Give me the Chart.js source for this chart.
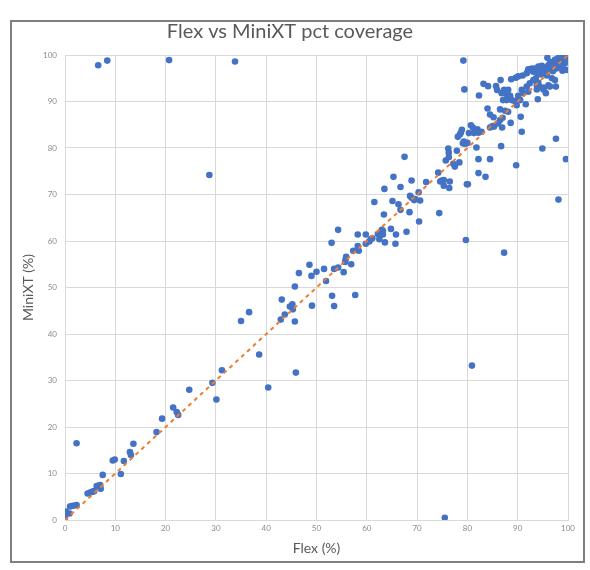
<!DOCTYPE html>
<html>
<head>
<meta charset="utf-8">
<script src="https://cdn.jsdelivr.net/npm/chart.js@4.4.1/dist/chart.umd.min.js"></script>
<style>
    body { margin: 0; background: #fff; }
    #frame {
        position: absolute;
        left: 10px;
        top: 20px;
        width: 571px;
        height: 539px;
        border: 2px solid #7f7f7f;
        background: #fff;
    }
</style>
</head>
<body>
<div id="frame"><canvas id="chart" width="571" height="539"></canvas></div>
<script>
// Flex coverage (x) and MiniXT coverage (y), paired by index
const flex = [
    0, 0, 0.1, 0.2, 0.9, 1.0, 1.3, 1.8, 2.3, 2.3,
    4.5, 5.0, 5.5, 5.8, 6.3, 6.7, 7.0, 7.1, 7.5,
    9.5, 9.9, 11.1, 11.7, 12.9, 13.1, 13.6,
    18.2, 19.3, 21.5, 22.2, 22.5, 24.7,
    29.3, 30.1, 31.2, 35.0, 36.6, 38.6, 40.4,
    42.9, 43.1, 43.7, 44.7, 45.2, 45.3, 45.7, 45.7, 45.9, 46.5, 48.6, 49.0, 49.1, 50.0,
    51.5, 51.9, 53.1, 53.5, 53.0, 54.3, 53.5, 54.3, 55.4, 55.7, 55.8, 55.9, 56.9, 57.3, 57.7,
    58.2, 58.2, 58.4, 59.8, 59.8, 60.5, 60.8, 61.1, 61.5, 62.2, 62.5, 63.0, 63.0, 63.2, 63.2,
    63.4, 63.5, 63.6, 64.8, 65.1, 65.3, 65.7, 65.8, 66.3, 66.7, 66.7, 67.5, 67.9, 68.5, 68.6,
    68.9, 69.4, 69.6, 68.9, 70.3, 70.4, 70.6, 71.8,
    74.2, 74.4, 74.6, 74.9, 75.3, 75.3, 75.5, 75.7, 76.2, 76.3, 76.3, 76.4, 76.5, 77.2, 77.5,
    77.9, 78.4, 78.1, 78.5, 78.7, 78.9, 79.1, 79.3, 79.6, 80.0, 79.9, 80.1, 79.7, 80.9, 79.2,
    79.4, 80.3, 80.7, 81.1, 81.3, 81.7, 82.0, 82.2, 82.8, 81.8, 82.2, 82.2, 83.6, 82.3, 83.2,
    84.1, 84.5, 84.0, 84.5, 85.2, 84.5, 85.0, 85.3, 85.7, 85.9, 86.1, 86.5, 87.0, 86.5, 87.5,
    88.1, 86.7, 86.9, 86.6, 86.8, 87.3, 87.7, 88.1, 88.5, 87.8, 87.1, 88.8, 88.7, 88.6, 89.7,
    87.3, 89.4, 89.8, 89.6, 90.1, 91.0, 91.8, 90.1, 90.8, 91.1, 91.8, 92.4, 92.1, 90.6, 90.8,
    90.5, 91.6,
    92.1, 92.8, 93.1, 93.1, 93.6, 94.1, 93.8, 94.3, 95.1, 95.6, 96.1, 96.8, 97.4, 94.9, 97.6,
    99.6, 98.1, 98.9, 99.7, 99.4, 98.7,
    92.3, 93.4, 94.1, 94.4, 94.8, 95.2, 95.6, 96.1, 96.4, 96.8, 97.1, 97.4, 97.9, 98.4, 99.2,
    100, 99.4, 98.4, 97.7, 99.7, 95.9, 97.6, 96.4, 95.2, 93.8, 94.0,
    95.5, 96.5, 97.0, 97.3, 98.0, 98.6, 99.0, 99.5, 98.2, 97.5, 96.9, 95.8, 94.6, 93.9, 99.8,
    99.9, 98.8,
    6.6, 8.4, 20.7, 33.8, 28.7
];
const miniXT = [
    0.5, 1.0, 1.4, 1.8, 1.4, 2.9, 3.0, 3.1, 3.2, 16.5,
    5.7, 5.9, 6.1, 6.2, 7.3, 7.4, 7.5, 6.7, 9.7,
    12.8, 13.0, 9.9, 12.7, 14.6, 14.0, 16.4,
    18.9, 21.8, 24.2, 23.2, 22.6, 28.0,
    29.5, 25.9, 32.2, 42.8, 44.7, 35.6, 28.5,
    43.1, 47.4, 44.2, 45.9, 46.4, 45.3, 42.7, 50.2, 31.7, 53.1, 54.9, 52.5, 46.1, 53.4,
    54.0, 51.4, 48.2, 46.0, 59.6, 62.4, 54.0, 54.3, 53.3, 55.5, 56.1, 56.6, 55.0, 57.9, 48.4,
    61.4, 58.9, 57.9, 61.4, 59.4, 59.9, 60.4, 60.6, 68.4, 61.5, 60.4, 62.4, 61.6, 61.4, 62.2,
    65.7, 71.2, 59.7, 62.6, 68.6, 73.8, 59.4, 61.4, 67.9, 71.6, 66.7, 78.1, 62.0, 66.2, 69.7,
    69.3, 68.8, 69.0, 73.0, 70.5, 64.2, 68.7, 72.7,
    74.7, 66.0, 72.8, 73.0, 73.1, 71.9, 0.5, 77.3, 79.9, 78.0, 79.0, 71.4, 72.8, 76.6, 76.0,
    79.4, 76.9, 82.4, 82.9, 83.3, 83.9, 81.0, 81.4, 80.9, 81.1, 72.2, 72.2, 60.2, 33.2, 98.8,
    92.6, 83.2, 84.9, 84.4, 83.2, 83.7, 84.0, 83.3, 83.5, 80.1, 77.6, 74.6, 73.8, 91.3, 93.8,
    93.3, 77.6, 88.5, 87.2, 86.6, 84.4, 84.7, 84.6, 93.3, 92.5, 85.3, 86.0, 86.5, 88.3, 88.0,
    87.8, 80.4, 84.4, 94.6, 91.8, 92.5, 91.6, 92.5, 91.2, 90.3, 90.3, 90.3, 94.8, 85.4, 76.3,
    57.5, 90.1, 89.2, 95.1, 95.4, 95.6, 96.1, 91.2, 92.5, 91.8, 93.2, 93.9, 92.1, 86.7, 83.5,
    90.3, 89.4,
    96.9, 97.1, 96.4, 94.6, 95.0, 94.0, 92.6, 93.2, 92.6, 91.8, 93.5, 95.0, 94.6, 79.9, 82.0,
    77.6, 68.9, 96.6, 99.6, 100, 99.6,
    96.8, 97.1, 97.5, 96.8, 97.7, 97.3, 97.0, 97.8, 98.2, 98.5, 98.0, 98.9, 99.1, 98.7, 99.4,
    99.8, 98.2, 97.5, 97.1, 96.8, 99.4, 93.2, 93.2, 93.0, 93.5, 90.5,
    96.2, 96.8, 96.5, 97.6, 98.2, 98.0, 98.9, 99.2, 99.5, 99.0, 97.4, 95.6, 95.8, 96.2, 99.9,
    98.6, 97.2,
    97.8, 98.8, 98.9, 98.6, 74.2
];
const trendX = [0, 100];
const trendY = [0, 100];
const axisTicks = [0, 10, 20, 30, 40, 50, 60, 70, 80, 90, 100];

const points = flex.map((x, i) => ({x: x, y: miniXT[i]}));
const trend = trendX.map((x, i) => ({x: x, y: trendY[i]}));

const gridColor = '#d9d9d9';
const tickFont = {family: 'Lato', size: 8};
const titleFont = {family: 'Lato', size: 14};

const ctx = document.getElementById('chart');

new Chart(ctx, {
    type: 'scatter',
    data: {
        datasets: [{
            label: 'Trend',
            data: trend,
            type: 'line',
            showLine: true,
            borderColor: '#ed7d31',
            borderWidth: 2,
            borderDash: [4, 4],
            pointRadius: 0,
            fill: false,
            order: 0
        }, {
            label: 'Coverage',
            data: points,
            backgroundColor: '#4472c4',
            borderWidth: 0,
            pointRadius: 3.3,
            order: 1
        }]
    },
    options: {
        responsive: false,
        animation: false,
        layout: {
            padding: {left: 0, right: 15, top: 0, bottom: 0}
        },
        plugins: {
            legend: {display: false},
            tooltip: {enabled: false},
            title: {
                display: true,
                text: 'Flex vs MiniXT pct coverage',
                color: '#595959',
                font: {family: 'Lato', size: 20, weight: 'normal', lineHeight: 1.0},
                padding: {top: 0, bottom: 13}
            }
        },
        scales: {
            x: {
                type: 'linear',
                min: 0,
                max: 100,
                afterFit: (scale) => { scale.height = 41; },
                afterBuildTicks: (scale) => { scale.ticks = axisTicks.map(v => ({value: v})); },
                grid: {color: gridColor, drawTicks: false},
                border: {color: gridColor},
                ticks: {color: '#8c8c8c', font: tickFont, padding: 4, maxRotation: 0},
                title: {
                    display: true,
                    text: 'Flex (%)',
                    color: '#595959',
                    font: titleFont,
                    padding: {top: 0, bottom: 4}
                }
            },
            y: {
                type: 'linear',
                min: 0,
                max: 100,
                afterFit: (scale) => { scale.width = 53; },
                afterBuildTicks: (scale) => { scale.ticks = axisTicks.map(v => ({value: v})); },
                grid: {color: gridColor, drawTicks: false},
                border: {color: gridColor},
                ticks: {color: '#8c8c8c', font: tickFont, padding: 8},
                title: {
                    display: true,
                    text: 'MiniXT (%)',
                    color: '#595959',
                    font: titleFont,
                    padding: {top: 8, bottom: 0}
                }
            }
        }
    }
});
</script>
</body>
</html>
